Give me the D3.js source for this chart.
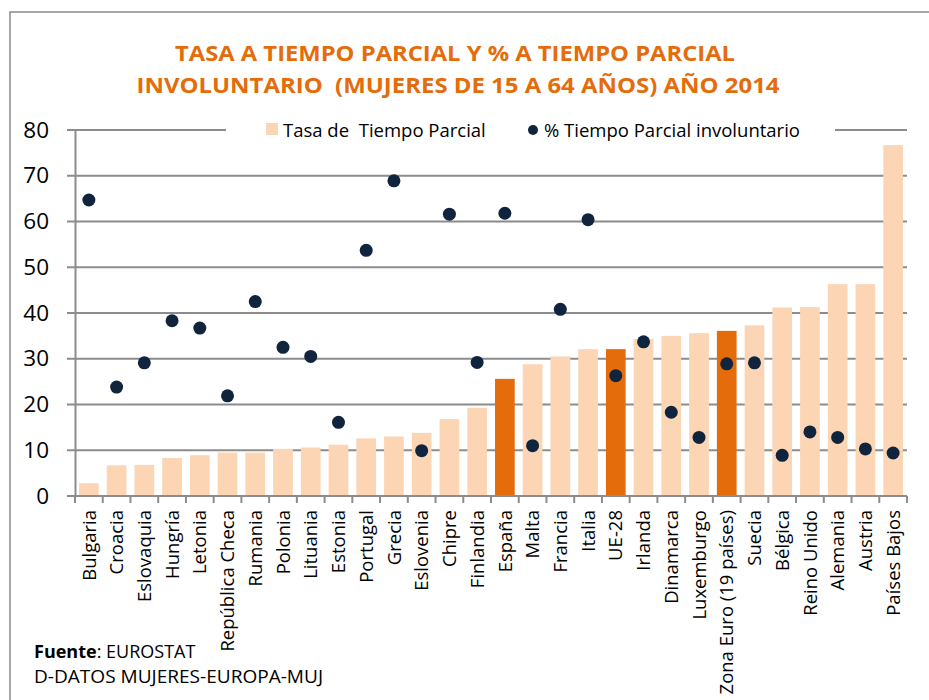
<!DOCTYPE html>
<html>
<head>
<meta charset="utf-8">
<script src="https://cdn.jsdelivr.net/npm/d3@7"></script>
<style>
  body { margin: 0; background: #fff; }
  svg { display: block; font-family: "Open Sans", sans-serif; }
</style>
</head>
<body>
<svg class="chart"></svg>
<script>
var paises = ["Bulgaria", "Croacia", "Eslovaquia", "Hungría", "Letonia", "República Checa",
  "Rumania", "Polonia", "Lituania", "Estonia", "Portugal", "Grecia", "Eslovenia", "Chipre",
  "Finlandia", "España", "Malta", "Francia", "Italia", "UE-28", "Irlanda", "Dinamarca",
  "Luxemburgo", "Zona Euro (19 países)", "Suecia", "Bélgica", "Reino Unido", "Alemania",
  "Austria", "Países Bajos"];

// Tasa de tiempo parcial (barras)
var tasaParcial = [2.8, 6.7, 6.8, 8.3, 8.9, 9.5, 9.5, 10.3, 10.6, 11.2, 12.6, 13.0, 13.8, 16.8,
  19.3, 25.6, 28.8, 30.5, 32.1, 32.1, 34.3, 35.0, 35.6, 36.1, 37.3, 41.2, 41.3, 46.3, 46.3, 76.7];

// % tiempo parcial involuntario (puntos)
var involuntario = [64.7, 23.8, 29.1, 38.3, 36.7, 21.9, 42.5, 32.5, 30.5, 16.1, 53.7, 68.9, 9.9,
  61.6, 29.2, 61.8, 11.0, 40.8, 60.4, 26.3, 33.7, 18.3, 12.8, 28.9, 29.1, 8.9, 14.0, 12.8, 10.3, 9.4];

var destacados = ["España", "UE-28", "Zona Euro (19 países)"];
var yTicks = [0, 10, 20, 30, 40, 50, 60, 70, 80];

var width = 929, height = 700;
var plotLeft = 75, plotRight = 907, plotTop = 130, plotBottom = 496;

var svg = d3.select(".chart")
  .attr("width", width)
  .attr("height", height);

// marco
svg.append("path")
  .attr("d", "M10,700 V12 H929")
  .attr("fill", "none")
  .attr("stroke", "#8a8a8a")
  .attr("stroke-width", 1.5);

var x = d3.scaleBand()
  .domain(paises)
  .range([plotLeft, plotRight])
  .paddingInner(0.29)
  .paddingOuter(0.145);

var y = d3.scaleLinear()
  .domain([0, 80])
  .range([plotBottom, plotTop]);

// titulo
var title = svg.append("g")
  .attr("fill", "#e46c0a")
  .attr("font-weight", "bold")
  .attr("font-size", 22)
  .attr("text-anchor", "middle");
title.append("text")
  .attr("x", 455).attr("y", 61)
  .attr("textLength", 560).attr("lengthAdjust", "spacingAndGlyphs")
  .text("TASA A TIEMPO PARCIAL Y % A TIEMPO PARCIAL");
title.append("text")
  .attr("x", 458).attr("y", 93)
  .attr("textLength", 643).attr("lengthAdjust", "spacingAndGlyphs")
  .attr("xml:space", "preserve")
  .text("INVOLUNTARIO  (MUJERES DE 15 A 64 AÑOS) AÑO 2014");

// lineas de cuadricula
svg.append("g")
  .selectAll("line")
  .data(yTicks)
  .enter()
  .append("line")
    .attr("x1", plotLeft - 8)
    .attr("x2", plotRight)
    .attr("y1", function(d) { return y(d); })
    .attr("y2", function(d) { return y(d); })
    .attr("stroke", "#8c8c8c")
    .attr("stroke-width", 2);

// eje y
var yAxis = svg.append("g")
  .attr("transform", "translate(" + plotLeft + ",0)")
  .call(d3.axisLeft(y).tickValues(yTicks).tickSize(0).tickPadding(26));
yAxis.select(".domain").attr("stroke", "#8c8c8c").attr("stroke-width", 2);
yAxis.selectAll("text")
  .attr("font-family", "Open Sans, sans-serif")
  .attr("font-size", 22.5)
  .attr("fill", "#000");

// barras
svg.append("g")
  .selectAll("rect")
  .data(paises)
  .enter()
  .append("rect")
    .attr("x", function(d) { return x(d); })
    .attr("width", x.bandwidth())
    .attr("y", function(d, i) { return y(tasaParcial[i]); })
    .attr("height", function(d, i) { return y(0) - y(tasaParcial[i]); })
    .attr("fill", function(d) { return destacados.indexOf(d) >= 0 ? "#e46c0a" : "#fcd5b4"; });

// eje x
var step = x.step();
var bordes = paises.map(function(d) { return x(d) - step * x.paddingInner() / 2; });
bordes.push(plotRight);
svg.append("line")
  .attr("x1", plotLeft - 8).attr("x2", plotRight)
  .attr("y1", plotBottom).attr("y2", plotBottom)
  .attr("stroke", "#8c8c8c").attr("stroke-width", 2);
svg.append("g")
  .selectAll("line")
  .data(bordes)
  .enter()
  .append("line")
    .attr("x1", function(d) { return d; })
    .attr("x2", function(d) { return d; })
    .attr("y1", plotBottom)
    .attr("y2", plotBottom + 7)
    .attr("stroke", "#8c8c8c")
    .attr("stroke-width", 2);

var xAxis = svg.append("g")
  .attr("transform", "translate(0," + plotBottom + ")")
  .call(d3.axisBottom(x).tickSize(0));
xAxis.select(".domain").remove();
xAxis.selectAll("text")
  .attr("font-family", "Open Sans, sans-serif")
  .attr("font-size", 18.5)
  .attr("fill", "#000")
  .attr("text-anchor", "end")
  .attr("transform", "rotate(-90)")
  .attr("x", -14)
  .attr("y", 0)
  .attr("dy", "0.36em");

// puntos
svg.append("g")
  .selectAll("circle")
  .data(paises)
  .enter()
  .append("circle")
    .attr("cx", function(d) { return x(d) + x.bandwidth() / 2; })
    .attr("cy", function(d, i) { return y(involuntario[i]); })
    .attr("r", 6.5)
    .attr("fill", "#10243e");

// leyenda
var legend = svg.append("g");
legend.append("rect")
  .attr("x", 226).attr("y", 118).attr("width", 609).attr("height", 24)
  .attr("fill", "#fff");
legend.append("rect")
  .attr("x", 266).attr("y", 123).attr("width", 12).attr("height", 12)
  .attr("fill", "#fcd5b4");
legend.append("text")
  .attr("x", 283).attr("y", 130).attr("dy", "0.36em")
  .attr("font-size", 18.5)
  .attr("xml:space", "preserve")
  .text("Tasa de  Tiempo Parcial");
legend.append("circle")
  .attr("cx", 533).attr("cy", 130).attr("r", 5)
  .attr("fill", "#10243e");
legend.append("text")
  .attr("x", 544).attr("y", 130).attr("dy", "0.36em")
  .attr("font-size", 18.5)
  .text("% Tiempo Parcial involuntario");

// fuente
var fuente = svg.append("text")
  .attr("x", 34).attr("y", 658)
  .attr("font-size", 18);
fuente.append("tspan").attr("font-weight", "bold").text("Fuente");
fuente.append("tspan").text(": EUROSTAT");
svg.append("text")
  .attr("x", 34).attr("y", 683)
  .attr("font-size", 18)
  .attr("textLength", 289).attr("lengthAdjust", "spacingAndGlyphs")
  .text("D-DATOS MUJERES-EUROPA-MUJ");
</script>
</body>
</html>
